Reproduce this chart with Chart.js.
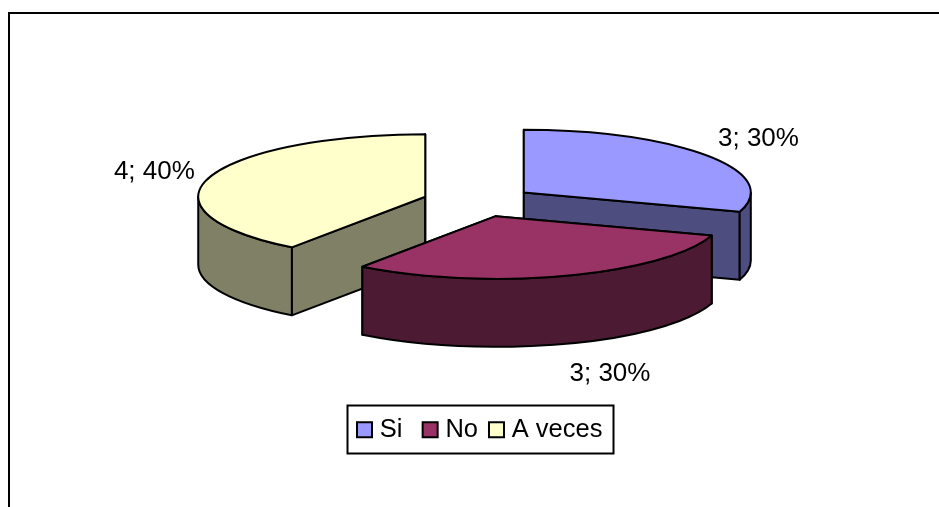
<!DOCTYPE html>
<html><head><meta charset="utf-8">
<style>html,body{margin:0;padding:0;background:#fff}canvas{display:block}</style>
<script src="https://cdn.jsdelivr.net/npm/chart.js@4/dist/chart.umd.min.js"></script>
</head><body>
<canvas id="c" width="939" height="507"></canvas>
<script>
const categories = ['Si', 'No', 'A veces'];
const values = [3, 3, 4];
const topColors = ['#9999FF', '#993366', '#FFFFCC'];
const sideColors = ['#4D4D80', '#4D1A33', '#808066'];
const drawOrder = [2, 0, 1];
const labelOffsets = [[51, -17], [44, 98.5], [-55, -6]];
const FONT = '"Liberation Sans", Arial, sans-serif';
const SQUASH = 0.2756, DEPTH = 68, STROKE = 2;
const total = values.reduce((a, b) => a + b, 0);

function geom(el) {
  const p = el.getProps(['x', 'y', 'startAngle', 'endAngle', 'outerRadius'], true);
  const mid = (p.startAngle + p.endAngle) / 2, d = el.options.offset || 0;
  return { a0: p.startAngle, a1: p.endAngle, mid, r: p.outerRadius,
    ox: p.x + d * Math.cos(mid), oy: p.y + SQUASH * d * Math.sin(mid) };
}
function pt(g, a) { return [g.ox + g.r * Math.cos(a), g.oy + SQUASH * g.r * Math.sin(a)]; }

function paint(ctx, fill) {
  ctx.fillStyle = fill; ctx.strokeStyle = '#000'; ctx.lineWidth = STROKE; ctx.lineJoin = 'round';
  ctx.fill(); ctx.stroke();
}
function radialFace(ctx, g, a, fill) {
  const [x, y] = pt(g, a);
  ctx.beginPath();
  ctx.moveTo(g.ox, g.oy); ctx.lineTo(x, y); ctx.lineTo(x, y + DEPTH); ctx.lineTo(g.ox, g.oy + DEPTH);
  ctx.closePath(); paint(ctx, fill);
}
function curvedWall(ctx, g, fill) {
  const TAU = Math.PI * 2;
  for (const k of [0, TAU]) {
    const from = Math.max(g.a0, k), to = Math.min(g.a1, k + Math.PI);
    if (to <= from) continue;
    ctx.beginPath();
    ctx.ellipse(g.ox, g.oy, g.r, g.r * SQUASH, 0, from, to);
    ctx.ellipse(g.ox, g.oy + DEPTH, g.r, g.r * SQUASH, 0, to, from, true);
    ctx.closePath(); paint(ctx, fill);
  }
}
const pie3d = {
  id: 'pie3d',
  afterLayout(chart) {
    const l = chart.legend;
    l.left = 346; l.right = 939; l.top = 401; l.bottom = 460;
  },
  beforeDatasetDraw(chart, args) {
    const ctx = chart.ctx, els = args.meta.data;
    ctx.save();
    for (const i of drawOrder) {
      const g = geom(els[i]);
      radialFace(ctx, g, g.a0, sideColors[i]);
      radialFace(ctx, g, g.a1, sideColors[i]);
      curvedWall(ctx, g, sideColors[i]);
      ctx.beginPath();
      ctx.moveTo(g.ox, g.oy);
      ctx.ellipse(g.ox, g.oy, g.r, g.r * SQUASH, 0, g.a0, g.a1);
      ctx.closePath(); paint(ctx, topColors[i]);
    }
    ctx.fillStyle = '#000'; ctx.font = '26px ' + FONT;
    ctx.textAlign = 'center'; ctx.textBaseline = 'middle';
    values.forEach((v, i) => {
      const g = geom(els[i]), [x, y] = pt(g, g.mid);
      ctx.fillText(v + '; ' + Math.round(v / total * 100) + '%', x + labelOffsets[i][0], y + labelOffsets[i][1]);
    });
    ctx.restore();
    return false;
  },
  afterDraw(chart) {
    const ctx = chart.ctx;
    ctx.save(); ctx.strokeStyle = '#000'; ctx.lineWidth = 2;
    ctx.beginPath(); ctx.moveTo(9, 507); ctx.lineTo(9, 13); ctx.lineTo(939, 13); ctx.stroke();
    ctx.strokeRect(347.5, 405.5, 266, 48);
    ctx.restore();
  }
};
const baseLabels = Chart.overrides.pie.plugins.legend.labels.generateLabels;
new Chart(document.getElementById('c'), {
  type: 'pie',
  data: { labels: categories, datasets: [{
    data: values, backgroundColor: topColors, borderColor: '#000', borderWidth: 2,
    offset: 56, radius: 227
  }] },
  options: {
    responsive: false, animation: false, devicePixelRatio: 1,
    radius: 227,
    layout: { padding: { left: 18, right: 0, top: 0, bottom: 52.5 } },
    plugins: {
      tooltip: { enabled: false },
      legend: {
        position: 'bottom', align: 'start',
        labels: {
          usePointStyle: true, pointStyle: 'rect', boxWidth: 5, boxHeight: 15, padding: 16,
          color: '#000', font: { family: FONT, size: 25.5 },
          generateLabels(chart) {
            return baseLabels(chart).map(it => Object.assign(it, { text: it.text === 'Si' ? 'Si \u200A' : it.text, pointStyle: 'rect' }));
          }
        }
      }
    }
  },
  plugins: [pie3d]
});
</script>
</body></html>
